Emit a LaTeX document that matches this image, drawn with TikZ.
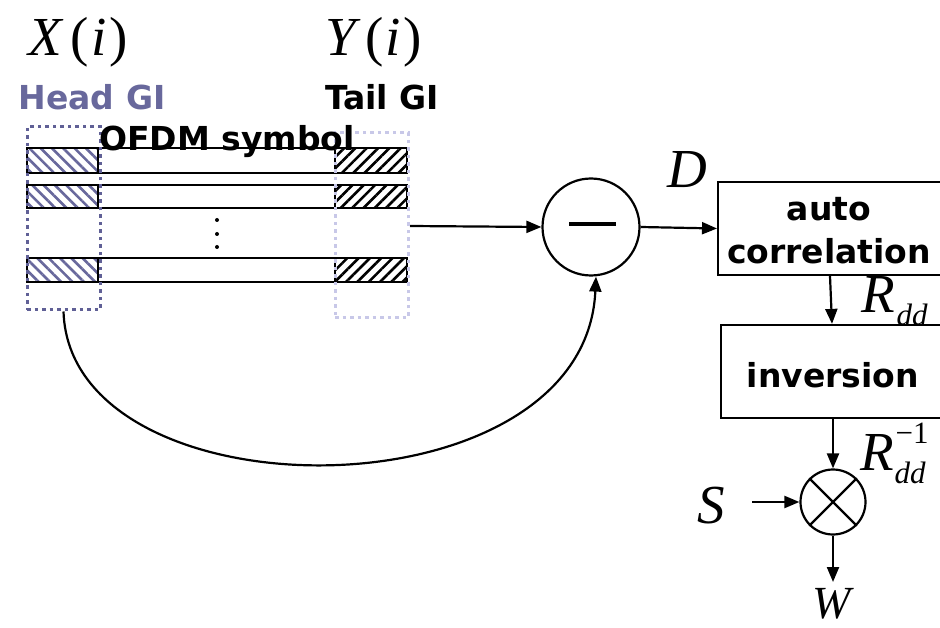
\documentclass[tikz,border=0pt]{standalone}
\usepackage{fontspec}
\setsansfont{DejaVu Sans}
\newfontfamily\serf{Liberation Serif}
\usetikzlibrary{arrows.meta,patterns.meta}
\definecolor{headc}{RGB}{104,104,156}
\definecolor{headbox}{RGB}{96,96,150}
\definecolor{tailbox}{RGB}{200,200,232}
\tikzset{
  sanslbl/.style={font=\fontsize{33}{43}\selectfont\sffamily\bfseries, inner sep=0pt, align=center},
  mathlbl/.style={font=\fontsize{55}{55}\selectfont\serf\itshape, inner sep=0pt, anchor=base},
  sublbl/.style={font=\fontsize{31}{31}\selectfont\serf\itshape, inner sep=0pt, anchor=base},
  arr/.style={line width=2.2pt, -{Triangle[length=15pt,width=12pt]}},
  rowline/.style={line width=2.2pt},
  headhatch/.style={pattern={Lines[angle=-45,distance=8pt,line width=2.6pt]}, pattern color=headc},
  tailhatch/.style={pattern={Lines[angle=45,distance=8pt,line width=2.6pt]}, pattern color=black},
  procbox/.style={draw, line width=2.2pt, minimum height=93pt, inner sep=0pt},
  opcirc/.style={circle, draw, line width=2.2pt, inner sep=0pt},
  gibox/.style={line width=3pt, dash pattern=on 3.5pt off 4pt}
}
\begin{document}
\begin{tikzpicture}[x=1pt,y=-1pt]
\useasboundingbox[fill=white] (0,0) rectangle (940,628);

% top labels
\node[mathlbl] (X) at (78,56) {X\hspace{9pt}{\upshape(}\hspace{2pt}i\hspace{3pt}{\upshape)}};
\node[mathlbl] (Y) at (374,56) {Y\hspace{9pt}{\upshape(}\hspace{2pt}i\hspace{3pt}{\upshape)}};
\node[sanslbl, text=headc] (hgi) at (92,97) {Head GI};
\node[sanslbl] (tgi) at (382,97) {Tail GI};

% rows
\foreach \t/\b in {148/173, 185/208, 258/282}{
  \draw[rowline] (98,\t) -- (335,\t);
  \draw[rowline] (98,\b) -- (335,\b);
  \draw[rowline, headhatch] (27,\t) rectangle (98,\b);
  \draw[rowline, tailhatch] (335,\t) rectangle (407,\b);
}
\foreach \y in {220,234,247}{ \fill (217,\y) circle (2pt); }

% GI boxes
\node[gibox, draw=headbox, minimum width=73pt, minimum height=183pt, inner sep=0pt] (hbox) at (63.5,218.5) {};
\node[gibox, draw=tailbox, minimum width=73pt, minimum height=185pt, inner sep=0pt] (tbox) at (371.5,225.5) {};

\node[sanslbl] (ofdm) at (227,142) {OFDM symbol};

% subtractor
\node[opcirc, minimum size=97pt] (sub) at (591,227) {};
\draw[line width=4.5pt] ([xshift=-22pt,yshift=3pt]sub.center) -- ([xshift=25pt,yshift=3pt]sub.center);
\coordinate (rowsout) at (410,226);
\draw[arr] (rowsout) -- (sub.west);

% processing boxes
\node[procbox, minimum width=240pt, anchor=west] (ac) at (717,228.5) {};
\node[sanslbl] (actext) at (829,231) {auto\\correlation};
\node[procbox, minimum width=240pt, anchor=west] (inv) at (720,371.5) {};
\node[sanslbl] (invtext) at (833,375) {inversion};
\draw[arr] (sub.east) -- (ac.west);
\node[mathlbl] (D) at (687,188) {D};

\draw[arr] (830,0 |- ac.south) -- (832,0 |- inv.north);
\node[mathlbl] (R1) at (878,313) {R};
\node[sublbl] (R1s) at (912,326) {dd};

% multiplier
\node[opcirc, minimum size=65pt] (mul) at (833,502) {};
\draw[line width=2.2pt] (mul.north west) -- (mul.south east);
\draw[line width=2.2pt] (mul.north east) -- (mul.south west);
\draw[arr] (inv.south -| mul.north) -- (mul.north);
\node[mathlbl] (R2) at (877,470) {R};
\node[sublbl] (R2s) at (910,483) {dd};
\node[sublbl, font=\fontsize{31}{31}\selectfont\serf] (R2p) at (912,443) {−1};

\node[mathlbl] (S) at (711,523) {S};
\coordinate (sin) at (752,502);
\draw[arr] (sin) -- (mul.west);

\node[mathlbl, font=\fontsize{46}{46}\selectfont\serf\itshape] (W) at (832,618) {W};
\draw[arr] (mul.south) -- (833,582);

% feedback curve
\draw[arr] (hbox.south) .. controls (70,520) and (585,520) .. ([xshift=5pt]sub.south);
\end{tikzpicture}
\end{document}
